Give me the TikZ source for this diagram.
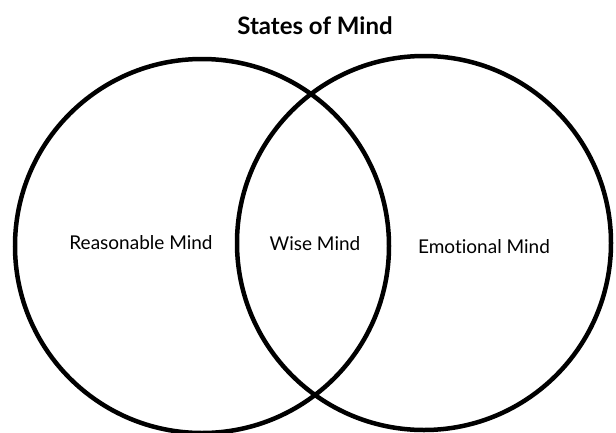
\documentclass[tikz,border=0pt]{standalone}
\usepackage{fontspec}
\setmainfont{Lato}[Ligatures=NoCommon]
\begin{document}
\begin{tikzpicture}[x=1pt,y=-1pt,
  ring/.style={draw=black,line width=4.5pt},
  lbl/.style={font=\fontsize{19}{22}\selectfont,inner sep=0pt},
  ttl/.style={font=\bfseries\fontsize{24}{28}\selectfont,inner sep=0pt}]
\useasboundingbox (0,0) rectangle (616,432);
\node[ttl] (title) at (315,26) {States of Mind};
\draw[ring] (202,246) circle[radius=187];
\draw[ring] (424,243) circle[radius=187];
\node[lbl] (reason) at (141,243) {Reasonable Mind};
\node[lbl] (wise) at (315,244) {Wise Mind};
\node[lbl] (emo) at (484,247) {Emotional Mind};
\end{tikzpicture}
\end{document}
